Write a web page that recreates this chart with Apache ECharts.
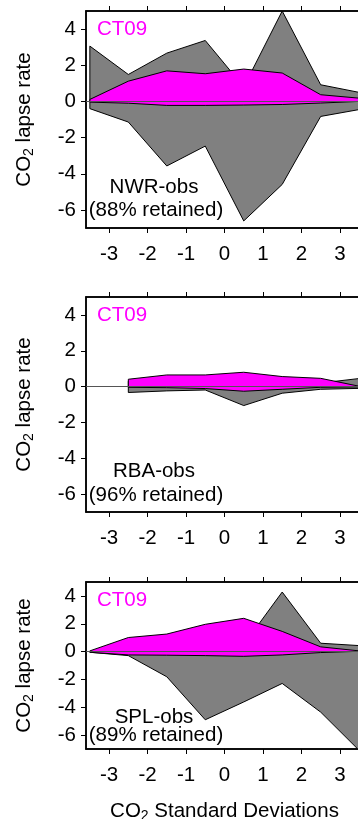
<!DOCTYPE html>
<html>
<head>
<meta charset="utf-8">
<script src="https://cdn.jsdelivr.net/npm/echarts@6/dist/echarts.min.js"></script>
<style>
html, body { margin: 0; padding: 0; background: #fff; }
#chart { width: 358px; height: 819px; }
</style>
</head>
<body>
<div id="chart"></div>
<script>
// x positions of the bins (standard deviations)
var xPts = [-3.5, -2.5, -1.5, -0.5, 0.5, 1.5, 2.5, 3.5];
var rbaX = [-2.5, -1.5, -0.5, 0.5, 1.5, 2.5, 3.5];
var xTicks = [-3, -2, -1, 0, 1, 2, 3];
var yTicks = [-6, -4, -2, 0, 2, 4];

// NWR-obs (gray band) and CT09 (magenta band)
var nwrObsMax = [3.06, 1.49, 2.67, 3.37, 0.8, 5.0, 0.92, 0.5];
var nwrObsMin = [-0.4, -1.14, -3.57, -2.47, -6.61, -4.59, -0.83, -0.45];
var nwrCtMax = [0.11, 1.12, 1.69, 1.53, 1.79, 1.57, 0.37, 0.18];
var nwrCtMin = [-0.04, -0.1, -0.22, -0.22, -0.2, -0.17, -0.09, 0.0];

// RBA-obs
var rbaObsMax = [0.3, 0.4, 0.4, 0.5, 0.3, 0.2, 0.45];
var rbaObsMin = [-0.33, -0.24, -0.19, -1.06, -0.37, -0.15, -0.1];
var rbaCtMax = [0.41, 0.65, 0.65, 0.8, 0.56, 0.46, 0.02];
var rbaCtMin = [-0.04, -0.06, -0.11, -0.26, -0.15, -0.04, -0.02];

// SPL-obs
var splObsMax = [0.0, 0.5, 0.8, 1.0, 0.5, 4.28, 0.6, 0.43];
var splObsMin = [-0.05, -0.29, -1.81, -4.9, -3.62, -2.29, -4.35, -7.1];
var splCtMax = [0.05, 1.01, 1.26, 1.96, 2.39, 1.45, 0.34, 0.05];
var splCtMin = [-0.05, -0.24, -0.26, -0.29, -0.34, -0.24, -0.07, 0.02];

var FONT = 'Liberation Sans, Arial, sans-serif';
var FS = 20.5;
var GRAY = '#808080';
var MAGENTA = '#ff00ff';

var panels = [
	{ top: 11, height: 217, site: 'NWR-obs', pct: '(88% retained)' },
	{ top: 297, height: 215, site: 'RBA-obs', pct: '(96% retained)' },
	{ top: 582, height: 167, site: 'SPL-obs', pct: '(89% retained)' }
];

var chart = echarts.init(document.getElementById('chart'));

var grids = [], xAxes = [], yAxes = [], series = [], graphics = [];

var subRich = {
	a: { fontSize: FS, color: '#000', fontFamily: FONT },
	s: { fontSize: 14, color: '#000', fontFamily: FONT, padding: [10, 0, 0, 0] }
};

function band(idx, xs, lo, hi, color, z) {
	return {
		type: 'custom',
		xAxisIndex: idx * 2,
		yAxisIndex: idx,
		z: z,
		silent: true,
		data: [[xs[0], lo[0]]],
		renderItem: function (params, api) {
			var pts = [];
			for (var i = 0; i < xs.length; i++) pts.push(api.coord([xs[i], hi[i]]));
			for (var j = xs.length - 1; j >= 0; j--) pts.push(api.coord([xs[j], lo[j]]));
			var cs = params.coordSys;
			return {
				type: 'group',
				clipPath: { type: 'rect', shape: { x: cs.x, y: cs.y, width: cs.width, height: cs.height } },
				children: [{
					type: 'polygon',
					shape: { points: pts },
					style: { fill: color, stroke: '#000', lineWidth: 1 }
				}]
			};
		}
	};
}

panels.forEach(function (p, i) {
	grids.push({
		left: 86, top: p.top, width: 277, height: p.height,
		outerBoundsMode: 'none',
		show: true, borderColor: '#000', borderWidth: 1.5, backgroundColor: '#fff'
	});
	var last = i === panels.length - 1;
	xAxes.push({
		type: 'value', gridIndex: i, position: 'bottom',
		min: -3.6, max: 3.6,
		splitLine: { show: false },
		axisLine: { onZero: false, lineStyle: { color: '#000', width: 1.5 } },
		axisTick: { length: 5, customValues: xTicks, lineStyle: { color: '#000' } },
		axisLabel: { customValues: xTicks, margin: 16, fontSize: FS, color: '#000', fontFamily: FONT },
		name: last ? '{a|CO}{s|2}{a| Standard Deviations}' : '',
		nameLocation: 'middle',
		nameGap: 50,
		nameTextStyle: { rich: subRich }
	});
	xAxes.push({
		type: 'value', gridIndex: i, position: 'top',
		min: -3.6, max: 3.6,
		splitLine: { show: false },
		axisLine: { onZero: false, lineStyle: { color: '#000', width: 1.5 } },
		axisTick: { length: 5, customValues: xTicks, lineStyle: { color: '#000' } },
		axisLabel: { show: false }
	});
	yAxes.push({
		type: 'value', gridIndex: i,
		min: -7, max: 5,
		splitLine: { show: false },
		axisLine: { onZero: false, lineStyle: { color: '#000', width: 1.5 } },
		axisTick: { length: 5, customValues: yTicks, lineStyle: { color: '#000' } },
		axisLabel: { customValues: yTicks, margin: 10, fontSize: FS, color: '#000', fontFamily: FONT },
		name: '{a|CO}{s|2}{a| lapse rate}',
		nameLocation: 'middle',
		nameGap: 50,
		nameTextStyle: { rich: subRich }
	});
	// zero reference line
	series.push({
		type: 'line', xAxisIndex: i * 2, yAxisIndex: i, data: [], z: 1,
		markLine: {
			silent: true, symbol: ['none', 'none'], label: { show: false },
			lineStyle: { color: '#555', width: 1, type: 'solid' },
			data: [{ yAxis: 0 }]
		}
	});
	var unit = p.height / 12;
	var yPct = p.top + p.height - 0.95 * unit;
	graphics.push({
		type: 'text', x: 97, y: p.top + 18,
		style: { text: 'CT09', fill: MAGENTA, fontSize: FS, fontFamily: FONT, verticalAlign: 'middle' }
	});
	graphics.push({
		type: 'text', x: 154, y: yPct - 1.3 * unit,
		style: { text: p.site, fill: '#000', fontSize: FS, fontFamily: FONT, align: 'center', verticalAlign: 'middle' }
	});
	graphics.push({
		type: 'text', x: 156, y: yPct,
		style: { text: p.pct, fill: '#000', fontSize: FS, fontFamily: FONT, align: 'center', verticalAlign: 'middle' }
	});
});

series.push(band(0, xPts, nwrObsMin, nwrObsMax, GRAY, 2));
series.push(band(0, xPts, nwrCtMin, nwrCtMax, MAGENTA, 3));
series.push(band(1, rbaX, rbaObsMin, rbaObsMax, GRAY, 2));
series.push(band(1, rbaX, rbaCtMin, rbaCtMax, MAGENTA, 3));
series.push(band(2, xPts, splObsMin, splObsMax, GRAY, 2));
series.push(band(2, xPts, splCtMin, splCtMax, MAGENTA, 3));

chart.setOption({
	animation: false,
	grid: grids,
	xAxis: xAxes,
	yAxis: yAxes,
	series: series,
	graphic: graphics
});
</script>
</body>
</html>
